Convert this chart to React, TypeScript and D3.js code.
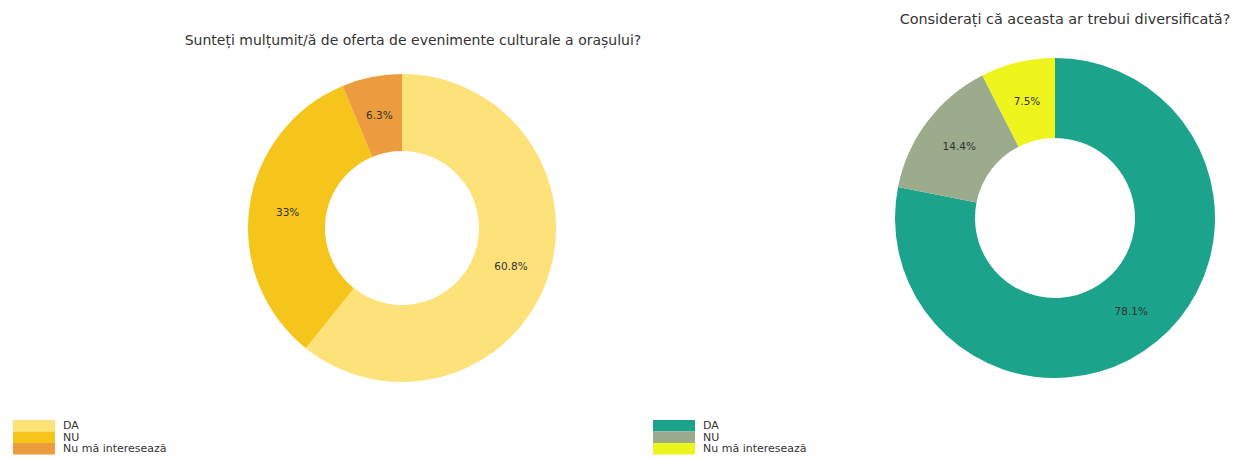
import React from "react";
import * as d3 from "d3";

const categories = ["DA", "NU", "Nu mă interesează"];
const leftValues = [60.8, 33, 6.3];
const leftLabels = ["60.8%", "33%", "6.3%"];
const rightValues = [78.1, 14.4, 7.5];
const rightLabels = ["78.1%", "14.4%", "7.5%"];
const leftColors = ["#FDE27A", "#F5C51B", "#EC9B3D"];
const rightColors = ["#1CA38B", "#9DAB8D", "#EEF51C"];
const leftTitle = "Sunteți mulțumit/ă de oferta de evenimente culturale a orașului?";
const rightTitle = "Considerați că aceasta ar trebui diversificată?";

const FONT = "DejaVu Sans, Verdana, sans-serif";

function Donut({ cx, cy, r, values, labels, colors }: any) {
  const pie = d3.pie<number>().sort(null).value((d) => d);
  const arcs = pie(values);
  const arc = d3.arc<d3.PieArcDatum<number>>().innerRadius(r * 0.5).outerRadius(r);
  return (
    <g transform={`translate(${cx},${cy})`}>
      {arcs.map((a, i) => (
        <path key={i} d={arc(a) || ""} fill={colors[i]} />
      ))}
      {arcs.map((a, i) => {
        const [x, y] = arc.centroid(a);
        return (
          <text key={"t" + i} x={x} y={y} textAnchor="middle" dominantBaseline="central" fontSize={10.5} fill="#333" fontFamily={FONT}>
            {labels[i]}
          </text>
        );
      })}
    </g>
  );
}

function Legend({ x, y, colors }: any) {
  const h = 11.5;
  return (
    <g transform={`translate(${x},${y})`}>
      {categories.map((c, i) => (
        <g key={i} transform={`translate(0,${i * h})`}>
          <rect x={0} y={0} width={42} height={h} fill={colors[i]} />
          <text x={50} y={h / 2} dominantBaseline="central" fontSize={11} fill="#333" fontFamily={FONT}>
            {c}
          </text>
        </g>
      ))}
    </g>
  );
}

export default function App() {
  return (
    <svg width={1235} height={459} style={{ position: "absolute", left: 0, top: 0, background: "#fff" }}>
      <text x={413} y={40} textAnchor="middle" dominantBaseline="central" fontSize={14} fill="#333" fontFamily={FONT}>
        {leftTitle}
      </text>
      <text x={1065} y={19} textAnchor="middle" dominantBaseline="central" fontSize={14.4} fill="#333" fontFamily={FONT}>
        {rightTitle}
      </text>
      <Donut cx={402} cy={228} r={154} values={leftValues} labels={leftLabels} colors={leftColors} />
      <Donut cx={1055} cy={218} r={160} values={rightValues} labels={rightLabels} colors={rightColors} />
      <Legend x={13} y={420} colors={leftColors} />
      <Legend x={653} y={420} colors={rightColors} />
    </svg>
  );
}
